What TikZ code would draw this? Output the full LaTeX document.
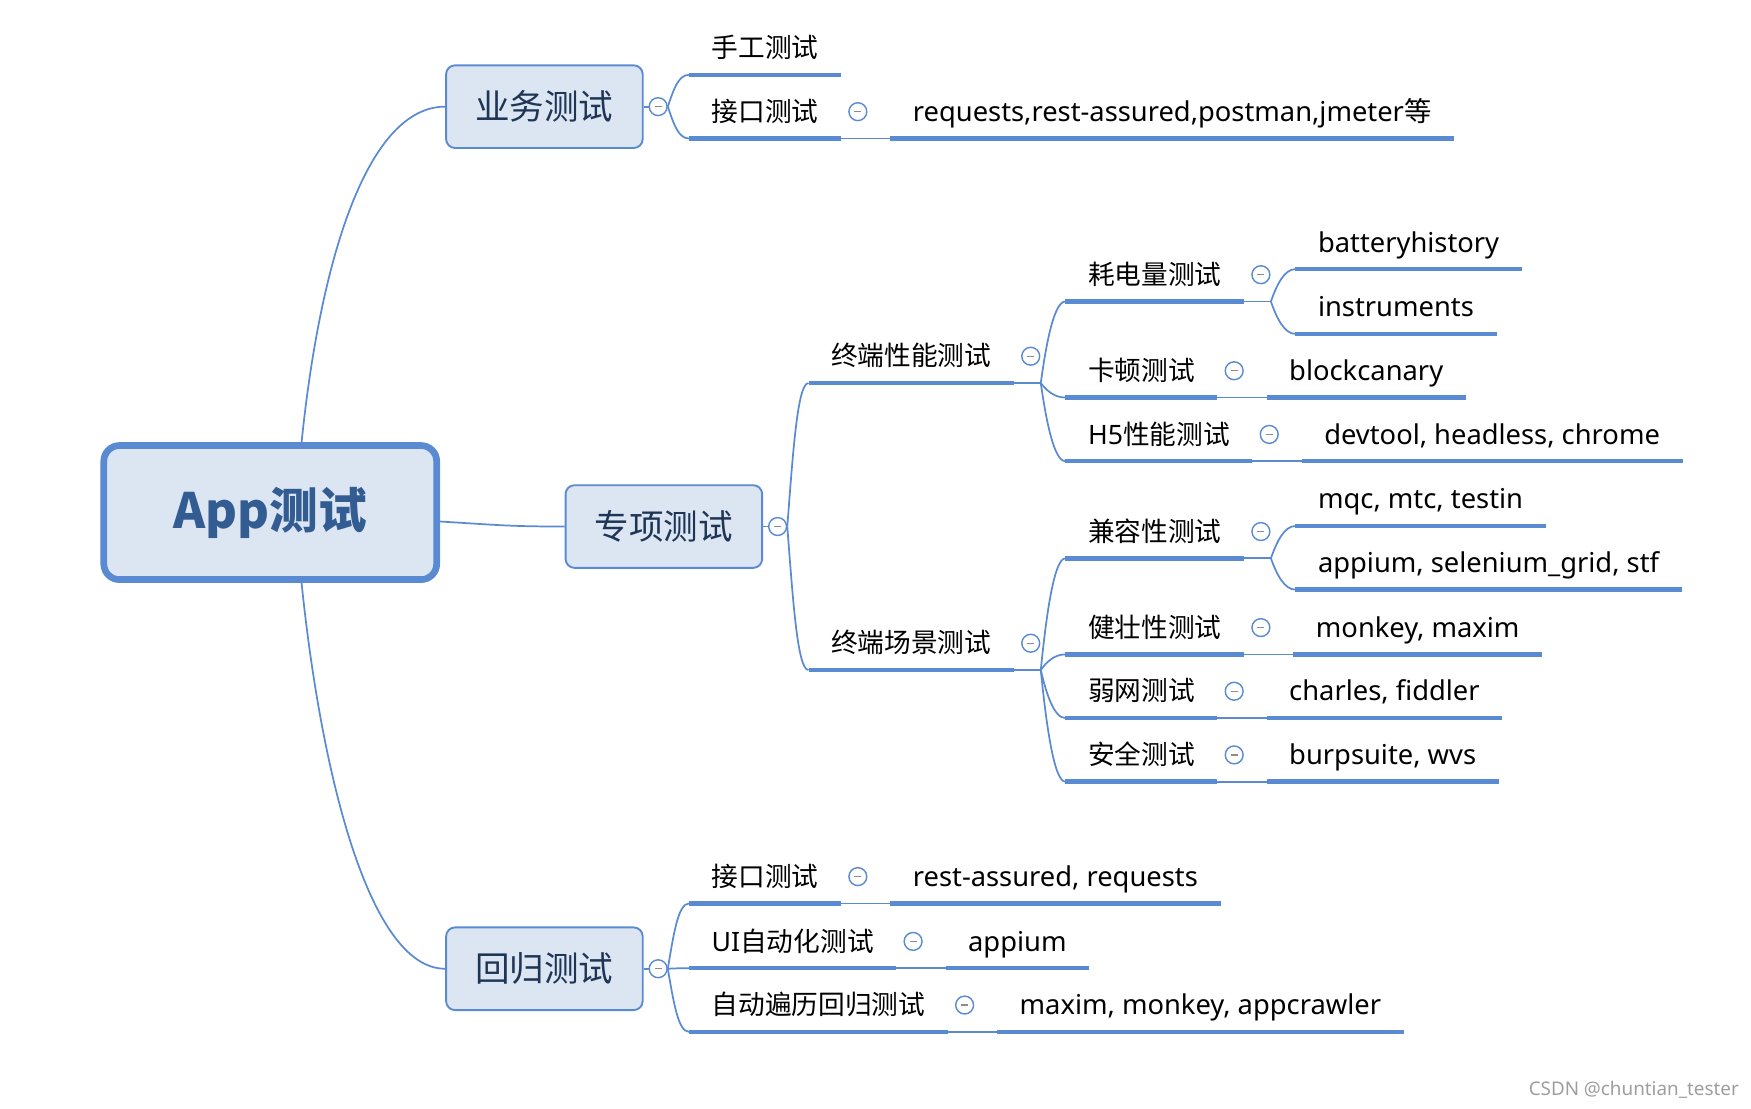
\documentclass[tikz,border=0pt]{standalone}
\usepackage{fontspec}
\setmainfont{Noto Sans}
\newfontfamily\zh{Noto Sans CJK SC}
\usetikzlibrary{calc,positioning}

\definecolor{mapline}{HTML}{5A8AD2}
\definecolor{mapfill}{HTML}{DCE6F2}
\definecolor{topictext}{HTML}{1F3556}
\definecolor{roottext}{HTML}{335D92}

\newcommand\leafsize{\fontsize{17}{20}\selectfont}

\tikzset{
  root/.style={draw=mapline,fill=mapfill,line width=0.15cm,rounded corners=0.35cm,
    minimum width=7.45cm,minimum height=3cm,text=roottext,
    font=\zh\bfseries\fontsize{31}{36}\selectfont},
  topic/.style={draw=mapline,fill=mapfill,line width=1.2pt,rounded corners=0.2cm,
    minimum width=4.4cm,minimum height=1.85cm,text=topictext,
    font=\zh\fontsize{22}{26}\selectfont},
  leaf/.style={anchor=south west,inner xsep=0.5cm,inner ysep=6.4pt,
    text height=13pt,text depth=4.3pt,font=\zh\leafsize},
  tool/.style={leaf,font=\fontsize{17.4}{20}\selectfont},
  uline/.style={mapline,line width=0.1cm},
  conn/.style={mapline,line width=1.1pt},
  fold/.style={circle,draw=mapline,fill=white,line width=0.9pt,minimum size=0.4cm,inner sep=0pt,
    path picture={\draw[black!45,line width=0.9pt]
      ([xshift=-0.08cm]path picture bounding box.center) -- ([xshift=0.08cm]path picture bounding box.center);}},
}

\newcommand\mapbranch[2]{%
  \draw[conn] (#1) .. controls ($(#1)!0.5!(#1|-#2)+(5,0)$) and ($(#2)+(-10,0)$) .. (#2);}

\begin{document}
\begin{tikzpicture}[x=0.025cm,y=-0.025cm]
\useasboundingbox (0,0) rectangle (1568,993);

% main topics
\node[root] (app) at (242,459) {App测试};
\node[topic] (biz) at (487.5,95.5) {业务测试};
\node[topic] (spec) at (594.5,471.5) {专项测试};
\node[topic] (reg) at (487.5,867.5) {回归测试};

\draw[conn] (app.66) .. controls +(17,-166) and +(-69,0) .. (biz.west);
\draw[conn] ($(app.east)+(0,8)$) .. controls +(50,3) and +(-50,0) .. (spec.west);
\draw[conn] (app.-66) .. controls +(17,166) and +(-69,0) .. (reg.west);

\node[fold] (bizf) at ($(biz.east)+(13,0)$) {};
\node[fold] (specf) at ($(spec.east)+(13,0)$) {};
\node[fold] (regf) at ($(reg.east)+(13,0)$) {};
\foreach \m in {biz,spec,reg}
  \draw[conn] (\m.east) -- (\m f.west);

% 业务测试
\node[leaf] (manual) at (617,67) {手工测试};
\node[leaf] (api) at (617,124) {接口测试};
\node[tool] (apitool) at ($(api.south east)+(44,0)$) {requests,rest-assured,postman,jmeter{\zh 等}};

% 专项测试
\node[leaf] (perf) at (724,343) {终端性能测试};
\node[leaf] (power) at (954,270) {耗电量测试};
\node[tool] (battery) at (1160,241) {batteryhistory};
\node[tool] (instr) at (1160,299) {instruments};
\node[leaf] (lag) at (954,356) {卡顿测试};
\node[tool] (lagtool) at ($(lag.south east)+(44,0)$) {blockcanary};
\node[leaf] (h5) at (954,413) {{\rmfamily H5}性能测试};
\node[tool] (h5tool) at ($(h5.south east)+(44,0)$) {devtool, headless, chrome};
\node[leaf] (scene) at (724,600) {终端场景测试};
\node[leaf] (compat) at (954,500) {兼容性测试};
\node[tool] (cloud) at (1160,471) {mqc, mtc, testin};
\node[tool] (grid) at (1160,528) {appium, selenium\_grid, stf};
\node[leaf] (robust) at (954,586) {健壮性测试};
\node[tool] (robusttool) at ($(robust.south east)+(44,0)$) {monkey, maxim};
\node[leaf] (weak) at (954,643) {弱网测试};
\node[tool] (weaktool) at ($(weak.south east)+(44,0)$) {charles, fiddler};
\node[leaf] (secure) at (954,700) {安全测试};
\node[tool] (securetool) at ($(secure.south east)+(44,0)$) {burpsuite, wvs};

% 回归测试
\node[leaf] (rapi) at (617,809) {接口测试};
\node[tool] (rapitool) at ($(rapi.south east)+(44,0)$) {rest-assured, requests};
\node[leaf] (ui) at (617,867) {{\rmfamily UI}自动化测试};
\node[tool] (uitool) at ($(ui.south east)+(44,0)$) {appium};
\node[leaf] (crawl) at (617,924) {自动遍历回归测试};
\node[tool] (crawltool) at ($(crawl.south east)+(44,0)$) {maxim, monkey, appcrawler};

% underlines
\foreach \n in {manual,api,apitool,perf,power,battery,instr,lag,lagtool,h5,h5tool,
    scene,compat,cloud,grid,robust,robusttool,weak,weaktool,secure,securetool,
    rapi,rapitool,ui,uitool,crawl,crawltool}
  \draw[uline] (\n.south west) -- (\n.south east);

% branch points
\coordinate (perfb) at ($(perf.south east)+(24,0)$);
\coordinate (sceneb) at ($(scene.south east)+(24,0)$);
\coordinate (powerb) at ($(power.south east)+(24,0)$);
\coordinate (compatb) at ($(compat.south east)+(24,0)$);
\foreach \n in {perf,scene,power,compat}
  \draw[conn] (\n.south east) -- (\n b);

\foreach \a/\b in {bizf.east/manual,bizf.east/api,specf.east/perf,specf.east/scene,
    perfb/power,perfb/lag,perfb/h5,powerb/battery,powerb/instr,
    sceneb/compat,sceneb/robust,sceneb/weak,sceneb/secure,compatb/cloud,compatb/grid,
    regf.east/rapi,regf.east/ui,regf.east/crawl}
  {\mapbranch{\a}{\b.south west}}

\foreach \a/\b in {api/apitool,lag/lagtool,h5/h5tool,robust/robusttool,weak/weaktool,
    secure/securetool,rapi/rapitool,ui/uitool,crawl/crawltool}
  \draw[conn] (\a.south east) -- (\b.south west);

% collapse buttons
\foreach \n in {api,perf,power,lag,h5,scene,compat,robust,weak,secure,rapi,ui,crawl}
  \node[fold] (\n f) at ($(\n.south east)+(15,-24)$) {};

\node[anchor=base west,text=black!38,font=\fontsize{12}{14}\selectfont] (mark) at (1364,981) {CSDN @chuntian\_tester};
\end{tikzpicture}
\end{document}
